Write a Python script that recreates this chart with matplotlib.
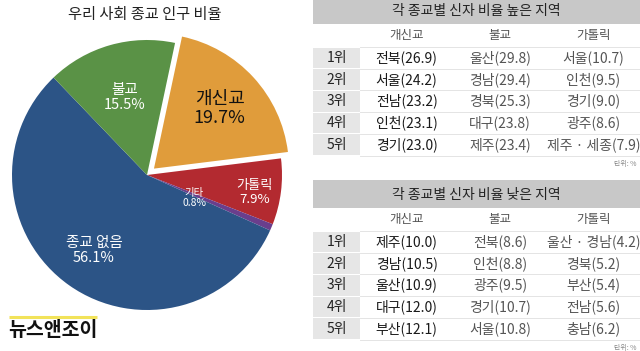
import numpy as np
import matplotlib
matplotlib.use('Agg')
import matplotlib.pyplot as plt
from matplotlib.patches import Rectangle

plt.rcParams['font.family'] = ['Noto Sans CJK KR', 'DejaVu Sans']

# pie data
pie_labels = ['개신교', '가톨릭', '기타', '종교 없음', '불교']
pie_values = [19.7, 7.9, 0.8, 56.1, 15.5]
pie_colors = ['#E09C3B', '#B32A30', '#6A3E8C', '#2C5486', '#5A9246']

# table data
ranks = ['1위', '2위', '3위', '4위', '5위']
religions = ['개신교', '불교', '가톨릭']

high_prot_regions = ['전북', '서울', '전남', '인천', '경기']
high_prot_values = [26.9, 24.2, 23.2, 23.1, 23.0]
high_budd_regions = ['울산', '경남', '경북', '대구', '제주']
high_budd_values = [29.8, 29.4, 25.3, 23.8, 23.4]
high_cath_regions = ['서울', '인천', '경기', '광주', '제주 · 세종']
high_cath_values = [10.7, 9.5, 9.0, 8.6, 7.9]

low_prot_regions = ['제주', '경남', '울산', '대구', '부산']
low_prot_values = [10.0, 10.5, 10.9, 12.0, 12.1]
low_budd_regions = ['전북', '인천', '광주', '경기', '서울']
low_budd_values = [8.6, 8.8, 9.5, 10.7, 10.8]
low_cath_regions = ['울산 · 경남', '경북', '부산', '전남', '충남']
low_cath_values = [4.2, 5.2, 5.4, 5.6, 6.2]

W, H = 640, 351
fig = plt.figure(figsize=(W / 100, H / 100), dpi=100)

# ---- pie ----
cx, cy, R = 147, 175, 135
lim = 1.1
side = 2 * R * lim
pax = fig.add_axes([(cx - side / 2) / W, (H - cy - side / 2) / H, side / W, side / H])
explode = [0.07, 0, 0, 0, 0]
wedges, _ = pax.pie(pie_values, colors=pie_colors, explode=explode, startangle=78,
                    counterclock=False, radius=1.0,
                    wedgeprops=dict(linewidth=0))
pax.set_xlim(-lim, lim)
pax.set_ylim(-lim, lim)
pax.set_aspect('equal')
pax.axis('off')

label_r = [0.66, 0.81, 0.39, 0.68, 0.60]
label_da = [0, -2, -3, 0, 0]
label_size = [13, 9.5, 7.5, 10.5, 10.5]
label_color = ['#111111', 'white', 'white', 'white', 'white']
for w, name, val, r, da, fs, c in zip(wedges, pie_labels, pie_values, label_r, label_da,
                                      label_size, label_color):
    mid = np.deg2rad((w.theta1 + w.theta2) / 2 + da)
    ox, oy = w.center
    pax.text(ox + r * np.cos(mid), oy + r * np.sin(mid), f'{name}\n{val}%',
             ha='center', va='center', color=c, fontsize=fs, linespacing=1.1)

fig.text(145 / W, 1 - 15 / H, '우리 사회 종교 인구 비율', ha='center', va='center',
         fontsize=11, color='#222222')

# ---- tables / logo overlay in pixel coords ----
ax = fig.add_axes([0, 0, 1, 1])
ax.set_xlim(0, W)
ax.set_ylim(H, 0)
ax.axis('off')

ax.plot([9, 97], [317, 317], color='#F2E35A', lw=2.2, solid_capstyle='butt')
ax.text(8, 331, '뉴스앤조이', ha='left', va='center', fontsize=14,
        fontweight='bold', color='#111111')

x0, x1 = 313, 640
rank_w = 47
col_w = (x1 - x0 - rank_w) / 3
head_h, colhead_h, row_h = 28, 23, 21.7


def draw_table(top, title, cols):
    ax.add_patch(Rectangle((x0, top), x1 - x0, head_h, color='#C8C8C8', lw=0))
    ax.text((x0 + x1) / 2, top + head_h / 2 + 1, title, ha='center', va='center',
            fontsize=10, color='#222222')
    ch_y = top + head_h + colhead_h / 2
    for j, rel in enumerate(religions):
        ax.text(x0 + rank_w + col_w * (j + 0.5), ch_y, rel, ha='center', va='center',
                fontsize=9, color='#555555')
    rows_top = top + head_h + colhead_h
    for i, rk in enumerate(ranks):
        y = rows_top + i * row_h
        ax.add_patch(Rectangle((x0, y + 0.6), rank_w, row_h - 1.2, color='#E6E6E6', lw=0))
        ax.plot([x0 + rank_w, x1], [y, y], color='#E4E4E4', lw=0.7)
        ax.text(x0 + rank_w / 2, y + row_h / 2, rk, ha='center', va='center',
                fontsize=10, color='#222222')
        for j, (regions, values) in enumerate(cols):
            txt = f'{regions[i]}({values[i]:.1f})'
            ax.text(x0 + rank_w + col_w * (j + 0.5), y + row_h / 2, txt,
                    ha='center', va='center', fontsize=10,
                    color='#1A1A1A' if j == 0 else '#555555')
    yb = rows_top + 5 * row_h
    ax.plot([x0 + rank_w, x1], [yb, yb], color='#E4E4E4', lw=0.7)
    ax.text(636, yb + 8.5, '단위: %', ha='right', va='center', fontsize=5,
            color='#888888')


draw_table(-4, '각 종교별 신자 비율 높은 지역',
           [(high_prot_regions, high_prot_values),
            (high_budd_regions, high_budd_values),
            (high_cath_regions, high_cath_values)])
draw_table(180, '각 종교별 신자 비율 낮은 지역',
           [(low_prot_regions, low_prot_values),
            (low_budd_regions, low_budd_values),
            (low_cath_regions, low_cath_values)])

fig.savefig('out.png', dpi=100)
